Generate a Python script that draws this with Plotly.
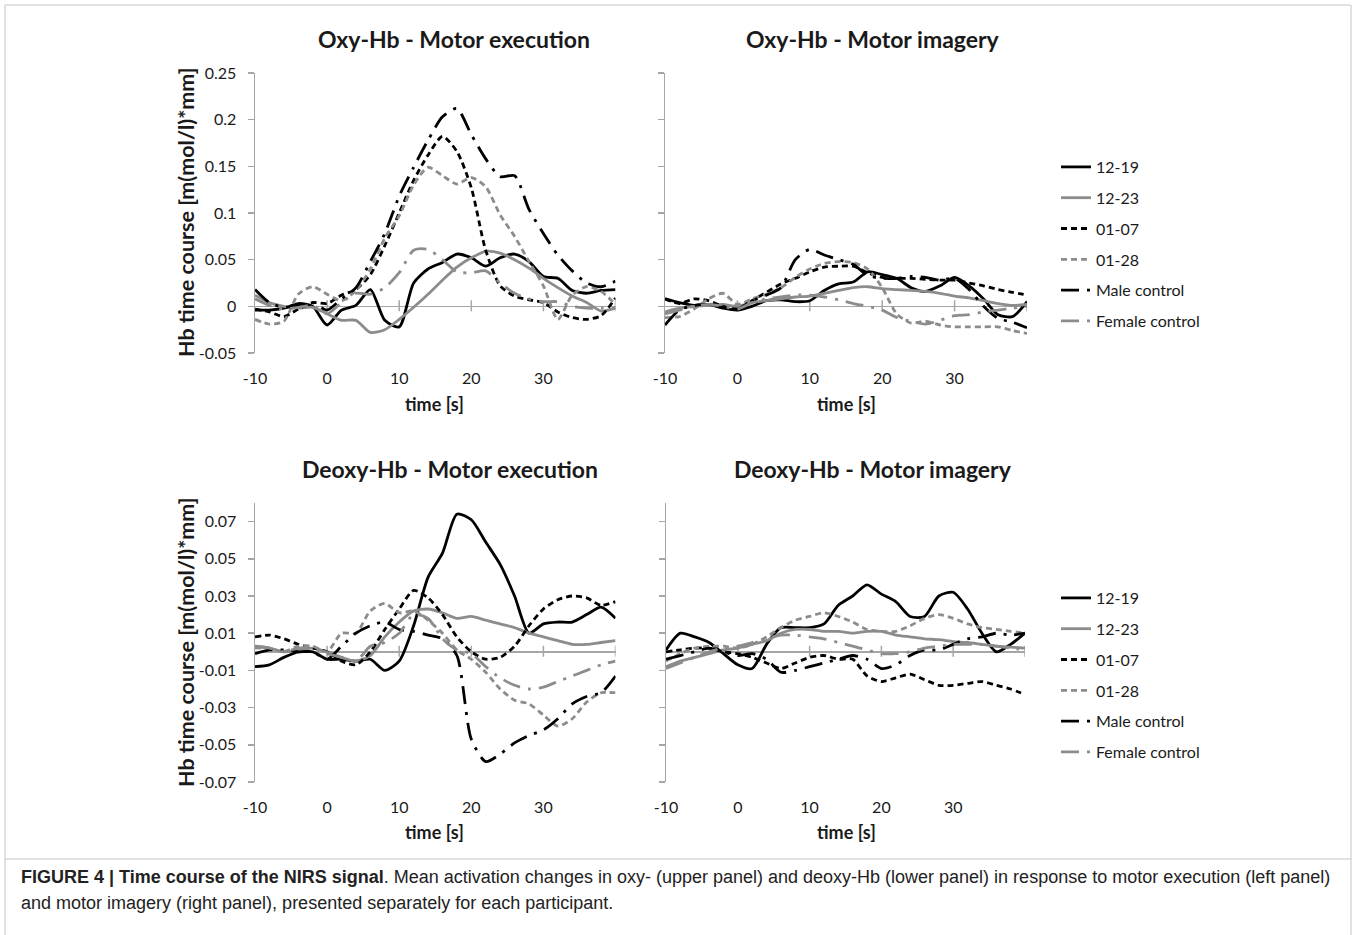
import plotly.graph_objects as go

# ---------------- data ----------------
TIME_S = [-10, -8, -6, -4, -2, 0, 2, 4, 6, 8, 10, 12, 14, 16, 18, 20, 22, 24, 26, 28, 30, 32, 34, 36, 38, 40]
SERIES = ["12-19", "12-23", "01-07", "01-28", "Male control", "Female control"]

X_TICKS = [-10, 0, 10, 20, 30]
OXY_TICKS = [-0.05, 0, 0.05, 0.1, 0.15, 0.2, 0.25]
OXY_TICK_TEXT = ["-0.05", "0", "0.05", "0.1", "0.15", "0.2", "0.25"]
DEOXY_TICKS = [-0.07, -0.05, -0.03, -0.01, 0.01, 0.03, 0.05, 0.07]
DEOXY_TICK_TEXT = ["-0.07", "-0.05", "-0.03", "-0.01", "0.01", "0.03", "0.05", "0.07"]

# Oxy-Hb - Motor execution
OXY_EXEC_12_19 = [-0.004, -0.004, -0.002, 0.003, 0.0, -0.02, -0.004, 0.001, 0.018, -0.015, -0.022, 0.025, 0.04, 0.047, 0.056, 0.052, 0.043, 0.052, 0.056, 0.048, 0.032, 0.03, 0.017, 0.014, 0.017, 0.018]
OXY_EXEC_12_23 = [0.012, 0.004, 0.0, -0.002, -0.001, -0.008, -0.015, -0.015, -0.028, -0.025, -0.014, -0.001, 0.013, 0.028, 0.042, 0.052, 0.059, 0.057, 0.05, 0.041, 0.03, 0.02, 0.011, 0.004, -0.005, -0.002]
OXY_EXEC_01_07 = [-0.003, -0.006, -0.011, -0.003, 0.004, 0.003, 0.012, 0.018, 0.034, 0.065, 0.1, 0.135, 0.162, 0.182, 0.166, 0.127, 0.06, 0.022, 0.011, 0.007, 0.004, -0.006, -0.012, -0.014, -0.01, 0.009]
OXY_EXEC_01_28 = [-0.014, -0.019, -0.016, 0.013, 0.021, 0.013, 0.006, 0.017, 0.04, 0.073, 0.097, 0.13, 0.149, 0.14, 0.131, 0.138, 0.128, 0.098, 0.075, 0.048, 0.022, -0.014, 0.012, 0.021, 0.016, 0.002]
OXY_EXEC_MALE = [0.018, 0.004, -0.001, 0.001, 0.004, -0.004, 0.008, 0.02, 0.048, 0.078, 0.118, 0.149, 0.178, 0.203, 0.212, 0.184, 0.158, 0.139, 0.14, 0.104, 0.078, 0.055, 0.038, 0.025, 0.021, 0.027]
OXY_EXEC_FEMALE = [0.008, 0.001, -0.003, -0.001, 0.001, -0.008, 0.004, 0.014, 0.013, 0.02, 0.036, 0.06, 0.061, 0.05, 0.037, 0.036, 0.038, 0.025, 0.014, 0.008, 0.005, 0.005, 0.0, -0.002, -0.002, -0.002]

# Oxy-Hb - Motor imagery
OXY_IMAG_12_19 = [0.008, 0.004, 0.001, 0.002, -0.002, -0.004, 0.0, 0.006, 0.007, 0.005, 0.006, 0.017, 0.024, 0.026, 0.037, 0.034, 0.03, 0.02, 0.016, 0.022, 0.031, 0.022, 0.008, -0.009, -0.011, 0.005]
OXY_IMAG_12_23 = [-0.006, -0.002, 0.0, 0.001, 0.002, 0.0, 0.004, 0.006, 0.008, 0.01, 0.011, 0.014, 0.017, 0.02, 0.021, 0.019, 0.018, 0.017, 0.016, 0.014, 0.011, 0.009, 0.006, 0.003, 0.001, 0.002]
OXY_IMAG_01_07 = [0.008, 0.003, 0.008, 0.006, 0.0, -0.003, 0.006, 0.015, 0.024, 0.03, 0.037, 0.042, 0.043, 0.043, 0.036, 0.031, 0.03, 0.03, 0.029, 0.028, 0.028, 0.025, 0.022, 0.018, 0.015, 0.012]
OXY_IMAG_01_28 = [-0.012, -0.011, -0.003, 0.008, 0.014, 0.002, 0.008, 0.013, 0.02, 0.031, 0.04, 0.046, 0.048, 0.047, 0.04, 0.02, -0.008, -0.018, -0.016, -0.02, -0.022, -0.022, -0.022, -0.022, -0.026, -0.029]
OXY_IMAG_MALE = [-0.02, -0.004, 0.001, 0.002, -0.001, -0.003, 0.006, 0.012, 0.02, 0.05, 0.061, 0.055, 0.05, 0.045, 0.033, 0.03, 0.03, 0.032, 0.031, 0.028, 0.03, 0.018, 0.0, -0.013, -0.017, -0.023]
OXY_IMAG_FEMALE = [-0.008, -0.004, 0.0, 0.002, 0.0, -0.003, 0.004, 0.008, 0.01, 0.012, 0.012, 0.01, 0.007, 0.003, 0.0, -0.004, -0.012, -0.016, -0.019, -0.015, -0.01, -0.009, -0.006, -0.004, -0.002, 0.0]

# Deoxy-Hb - Motor execution
DEOXY_EXEC_12_19 = [-0.008, -0.007, -0.003, 0.0, 0.0, -0.004, -0.004, -0.005, -0.004, -0.01, -0.005, 0.014, 0.04, 0.053, 0.074, 0.071, 0.059, 0.047, 0.03, 0.01, 0.015, 0.016, 0.016, 0.02, 0.024, 0.018]
DEOXY_EXEC_12_23 = [0.003, 0.002, 0.0, 0.001, 0.002, 0.0, -0.003, -0.005, -0.002, 0.008, 0.016, 0.022, 0.023, 0.021, 0.018, 0.019, 0.017, 0.015, 0.013, 0.01, 0.008, 0.006, 0.004, 0.004, 0.005, 0.006]
DEOXY_EXEC_01_07 = [0.008, 0.009, 0.007, 0.004, 0.002, 0.0, -0.005, -0.007, 0.0, 0.012, 0.023, 0.033, 0.029, 0.02, 0.008, 0.0, -0.004, -0.003, 0.003, 0.014, 0.023, 0.028, 0.03, 0.029, 0.025, 0.027]
DEOXY_EXEC_01_28 = [0.002, 0.002, 0.0, 0.003, 0.003, 0.0, 0.01, 0.01, 0.022, 0.026, 0.021, 0.022, 0.017, 0.01, 0.001, -0.004, -0.011, -0.02, -0.026, -0.028, -0.034, -0.04, -0.036, -0.027, -0.022, -0.022]
DEOXY_EXEC_MALE = [-0.001, 0.001, 0.001, 0.0, 0.0, -0.004, 0.003, 0.01, 0.014, 0.016, 0.012, 0.011, 0.009, 0.007, -0.002, -0.047, -0.059, -0.055, -0.049, -0.045, -0.042, -0.036, -0.028, -0.024, -0.022, -0.013]
DEOXY_EXEC_FEMALE = [0.003, 0.002, 0.0, 0.002, 0.002, -0.001, -0.003, -0.005, 0.003, 0.005, 0.01, 0.02, 0.018, 0.007, 0.001, -0.001, -0.008, -0.014, -0.018, -0.02, -0.019, -0.016, -0.013, -0.01, -0.007, -0.005]

# Deoxy-Hb - Motor imagery
DEOXY_IMAG_12_19 = [0.001, 0.01, 0.008, 0.005, -0.001, -0.007, -0.009, 0.004, 0.013, 0.013, 0.013, 0.015, 0.025, 0.03, 0.036, 0.031, 0.027, 0.019, 0.019, 0.03, 0.032, 0.023, 0.01, 0.0, 0.004, 0.01]
DEOXY_IMAG_12_23 = [-0.008, -0.005, -0.003, -0.001, 0.001, 0.002, 0.004, 0.006, 0.01, 0.012, 0.012, 0.011, 0.011, 0.01, 0.011, 0.011, 0.009, 0.008, 0.007, 0.0065, 0.0055, 0.005, 0.004, 0.003, 0.0025, 0.002]
DEOXY_IMAG_01_07 = [0.0, 0.001, 0.002, 0.002, 0.0, -0.001, -0.003, -0.006, -0.009, -0.006, -0.003, -0.002, -0.004, -0.004, -0.013, -0.016, -0.014, -0.012, -0.015, -0.018, -0.018, -0.017, -0.016, -0.018, -0.02, -0.023]
DEOXY_IMAG_01_28 = [-0.005, -0.001, 0.002, 0.003, 0.003, 0.002, 0.004, 0.008, 0.013, 0.017, 0.019, 0.021, 0.019, 0.016, 0.012, 0.011, 0.011, 0.014, 0.018, 0.02, 0.018, 0.015, 0.013, 0.012, 0.011, 0.01]
DEOXY_IMAG_MALE = [-0.004, -0.002, 0.0, 0.002, 0.0, -0.002, -0.001, -0.004, -0.011, -0.01, -0.008, -0.006, -0.004, -0.002, -0.004, -0.009, -0.007, -0.002, 0.001, 0.001, 0.004, 0.007, 0.008, 0.01, 0.009, 0.01]
DEOXY_IMAG_FEMALE = [-0.009, -0.006, -0.003, 0.0, 0.002, 0.003, 0.005, 0.007, 0.009, 0.009, 0.008, 0.007, 0.005, 0.003, 0.001, -0.001, -0.001, 0.0, 0.002, 0.003, 0.004, 0.004, 0.004, 0.003, 0.002, 0.001]

PANEL_TITLES = ["Oxy-Hb - Motor execution", "Oxy-Hb - Motor imagery",
                "Deoxy-Hb - Motor execution", "Deoxy-Hb - Motor imagery"]
Y_TITLE = "Hb time course [m(mol/l)*mm]"
X_TITLE = "time [s]"

# ---------------- styling ----------------
W, H = 1357, 935
FONT = "Lato, 'Open Sans', sans-serif"
TXT = "#1a1a1a"
AX = "#a6a6a6"
BLACK, GREY = "#000000", "#8c8c8c"
SHORT_DASH = "6px,4px"
LONG_DASH_DOT = "18px,8px,3px,8px"
STYLE = {
    "12-19": (BLACK, "solid"),
    "12-23": (GREY, "solid"),
    "01-07": (BLACK, SHORT_DASH),
    "01-28": (GREY, SHORT_DASH),
    "Male control": (BLACK, LONG_DASH_DOT),
    "Female control": (GREY, LONG_DASH_DOT),
}


def px_x(p):
    return p / W


def px_y(p):
    return 1 - p / H


panels = [
    dict(ax="", data=[OXY_EXEC_12_19, OXY_EXEC_12_23, OXY_EXEC_01_07, OXY_EXEC_01_28, OXY_EXEC_MALE, OXY_EXEC_FEMALE],
         xdom=(255, 615.5), ydom=(73, 353), rng=(-0.05, 0.25), tv=OXY_TICKS, tt=OXY_TICK_TEXT, labels=True, legend="legend"),
    dict(ax="2", data=[OXY_IMAG_12_19, OXY_IMAG_12_23, OXY_IMAG_01_07, OXY_IMAG_01_28, OXY_IMAG_MALE, OXY_IMAG_FEMALE],
         xdom=(665, 1027), ydom=(73, 353), rng=(-0.05, 0.25), tv=OXY_TICKS, tt=OXY_TICK_TEXT, labels=False, legend=None),
    dict(ax="3", data=[DEOXY_EXEC_12_19, DEOXY_EXEC_12_23, DEOXY_EXEC_01_07, DEOXY_EXEC_01_28, DEOXY_EXEC_MALE, DEOXY_EXEC_FEMALE],
         xdom=(255, 615.5), ydom=(503, 782), rng=(-0.07, 0.08), tv=DEOXY_TICKS, tt=DEOXY_TICK_TEXT, labels=True, legend="legend2"),
    dict(ax="4", data=[DEOXY_IMAG_12_19, DEOXY_IMAG_12_23, DEOXY_IMAG_01_07, DEOXY_IMAG_01_28, DEOXY_IMAG_MALE, DEOXY_IMAG_FEMALE],
         xdom=(666, 1025), ydom=(503, 782), rng=(-0.07, 0.08), tv=DEOXY_TICKS, tt=DEOXY_TICK_TEXT, labels=False, legend=None),
]

fig = go.Figure()
layout = dict(
    width=W, height=H, margin=dict(l=0, r=0, t=0, b=0, pad=0, autoexpand=False),
    paper_bgcolor="white", plot_bgcolor="white",
    font=dict(family=FONT, color=TXT, size=16),
    annotations=[], shapes=[],
)

for p in panels:
    a = p["ax"]
    for name, ys in zip(SERIES, p["data"]):
        col, dash = STYLE[name]
        tr = go.Scatter(
            x=TIME_S, y=ys, mode="lines", name=name,
            line=dict(color=col, dash=dash, width=2.8, shape="spline", smoothing=0.7),
            xaxis="x" + a, yaxis="y" + a, hoverinfo="skip",
            showlegend=p["legend"] is not None,
            legendgroup=(p["legend"] or "") + name,
        )
        if p["legend"]:
            tr.update(legend=p["legend"])
        fig.add_trace(tr)

    layout["xaxis" + a] = dict(
        domain=[px_x(p["xdom"][0]), px_x(p["xdom"][1])], anchor="y" + a,
        range=[-10, 40], tickvals=X_TICKS, ticktext=[str(v) for v in X_TICKS],
        showline=False, ticks="", showgrid=False, zeroline=False, automargin=False,
        tickfont=dict(size=16, color=TXT), ticklabelstandoff=14,
    )
    layout["yaxis" + a] = dict(
        domain=[px_y(p["ydom"][1]), px_y(p["ydom"][0])], anchor="x" + a,
        range=list(p["rng"]), tickvals=p["tv"], ticktext=p["tt"],
        showticklabels=p["labels"], showline=True, linecolor=AX, linewidth=1.5,
        ticks="outside", ticklen=6, tickcolor=AX, tickwidth=1.5, automargin=False,
        showgrid=False, zeroline=True, zerolinecolor=AX, zerolinewidth=1.5,
        tickfont=dict(size=16, color=TXT), ticklabelstandoff=8,
    )
    # small cross ticks on the horizontal axis line at y = 0
    for t in [0, 10, 20, 30, 40]:
        layout["shapes"].append(dict(
            type="line", xref="x" + a, yref="y" + a, x0=t, x1=t,
            ysizemode="pixel", yanchor=0, y0=-5, y1=6,
            line=dict(color=AX, width=1.5), layer="below",
        ))

# titles
title_pos = [(454, 39), (873, 39), (450, 469), (873, 469)]
for txt, (x, y) in zip(PANEL_TITLES, title_pos):
    layout["annotations"].append(dict(
        text="<b>%s</b>" % txt, x=px_x(x), y=px_y(y), xref="paper", yref="paper",
        showarrow=False, xanchor="center", yanchor="middle",
        font=dict(size=23, family=FONT, color=TXT)))

# x axis titles
for x, y in [(435, 404), (846, 404), (435, 832), (846, 832)]:
    layout["annotations"].append(dict(
        text="<b>%s</b>" % X_TITLE, x=px_x(x), y=px_y(y), xref="paper", yref="paper",
        showarrow=False, xanchor="center", yanchor="middle",
        font=dict(size=18, family=FONT, color=TXT)))

# y axis titles
for y in [213, 643]:
    layout["annotations"].append(dict(
        text="<b>%s</b>" % Y_TITLE, x=px_x(186), y=px_y(y), xref="paper", yref="paper",
        showarrow=False, xanchor="center", yanchor="middle", textangle=-90,
        font=dict(size=21.5, family=FONT, color=TXT)))

# legends
leg_common = dict(
    xanchor="left", yanchor="top", bgcolor="rgba(0,0,0,0)", borderwidth=0,
    font=dict(size=16, family=FONT, color=TXT), traceorder="grouped",
    tracegroupgap=7, itemwidth=30,
)
layout["legend"] = dict(leg_common, x=px_x(1056), y=px_y(150))
layout["legend2"] = dict(leg_common, x=px_x(1056), y=px_y(581))

# frame and caption
FRAME = "#c4c4c4"
layout["shapes"] += [
    dict(type="line", xref="paper", yref="paper", x0=px_x(5), x1=px_x(1351), y0=px_y(5), y1=px_y(5), line=dict(color=FRAME, width=1)),
    dict(type="line", xref="paper", yref="paper", x0=px_x(5), x1=px_x(5), y0=px_y(5), y1=0, line=dict(color=FRAME, width=1)),
    dict(type="line", xref="paper", yref="paper", x0=px_x(1351), x1=px_x(1351), y0=px_y(5), y1=0, line=dict(color=FRAME, width=1)),
    dict(type="line", xref="paper", yref="paper", x0=px_x(5), x1=px_x(1351), y0=px_y(859), y1=px_y(859), line=dict(color=FRAME, width=1)),
]
CAP_FONT = "'Liberation Sans', Arial, sans-serif"
CAPTION_1 = ("<b>FIGURE 4 | Time course of the NIRS signal</b>. Mean activation changes in oxy- (upper panel) "
             "and deoxy-Hb (lower panel) in response to motor execution (left panel)")
CAPTION_2 = "and motor imagery (right panel), presented separately for each participant."
for txt, y in [(CAPTION_1, 877), (CAPTION_2, 903)]:
    layout["annotations"].append(dict(
        text=txt, x=px_x(19), y=px_y(y), xref="paper", yref="paper",
        showarrow=False, xanchor="left", yanchor="middle",
        font=dict(size=18, family=CAP_FONT, color="#222222")))

fig.update_layout(**layout)
fig.write_html("out.html", config={"displayModeBar": False, "staticPlot": True},
               post_script="document.body.style.margin='0px';")
